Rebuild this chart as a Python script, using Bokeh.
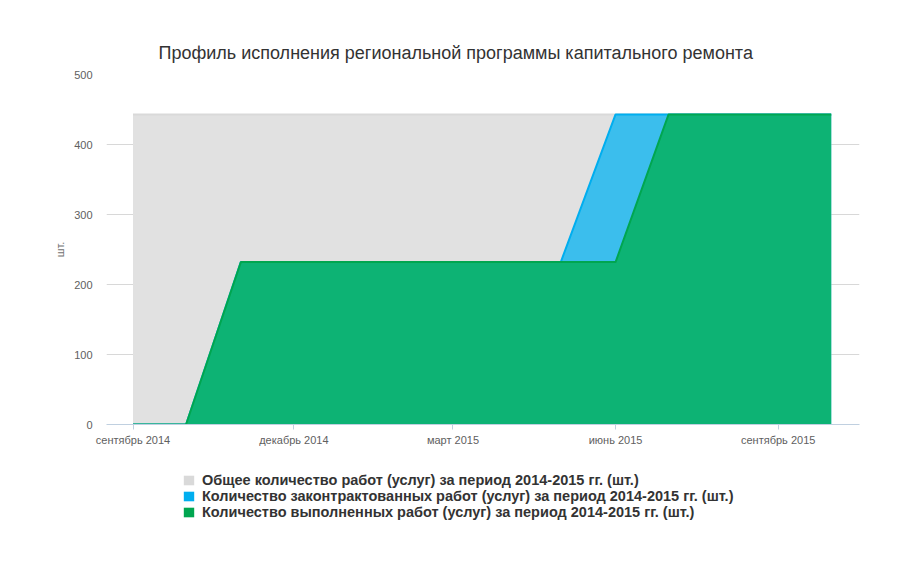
import pandas as pd
from bokeh.plotting import figure
from bokeh.layouts import column
from bokeh.models import Legend, LegendItem, FixedTicker, Range1d
from bokeh.embed import file_html
from bokeh.resources import INLINE

months = ["2014-09-01", "2014-10-01", "2014-11-01", "2014-12-01", "2015-01-01",
          "2015-02-01", "2015-03-01", "2015-04-01", "2015-05-01", "2015-06-01",
          "2015-07-01", "2015-08-01", "2015-09-01", "2015-10-01"]
total = [443, 443, 443, 443, 443, 443, 443, 443, 443, 443, 443, 443, 443, 443]
contracted = [0, 0, 232, 232, 232, 232, 232, 232, 232, 443, 443, 443, 443, 443]
completed = [0, 0, 232, 232, 232, 232, 232, 232, 232, 232, 443, 443, 443, 443]

tick_dates = ["2014-09-01", "2014-12-01", "2015-03-01", "2015-06-01", "2015-09-01"]
tick_labels = ["сентябрь 2014", "декабрь 2014", "март 2015", "июнь 2015", "сентябрь 2015"]
y_ticks = [0, 100, 200, 300, 400, 500]

title_text = "Профиль исполнения региональной программы капитального ремонта"
y_title = "шт."
series_names = ["Общее количество работ (услуг) за период 2014-2015 гг. (шт.)",
                "Количество законтрактованных работ (услуг) за период 2014-2015 гг. (шт.)",
                "Количество выполненных работ (услуг) за период 2014-2015 гг. (шт.)"]


def ms(s):
    return pd.Timestamp(s).value / 1e6


x = [ms(m) for m in months]
ticks = [ms(t) for t in tick_dates]

FONT = "Liberation Sans"

p = figure(width=900, height=470, output_backend="svg", toolbar_location=None,
           min_border_left=106, min_border_right=41, min_border_top=74, min_border_bottom=46,
           background_fill_color="white", border_fill_color="white")
p.outline_line_color = None
p.x_range = Range1d(ms("2014-08-17"), ms("2015-10-17"))
p.y_range = Range1d(0, 500)

fills = ["#e1e1e1", "#3bbeed", "#0db374"]
lines = ["#d9d9d9", "#00aeef", "#00a650"]
swatch = ["#d9d9d9", "#00aeef", "#00a650"]
datas = [total, contracted, completed]
for d, fc, lc in zip(datas, fills, lines):
    p.varea(x=x, y1=[0] * len(x), y2=d, fill_color=fc)
    p.line(x=x, y=d, line_color=lc, line_width=2)

# axes
p.xaxis.ticker = FixedTicker(ticks=ticks)
p.xaxis.major_label_overrides = {t: l for t, l in zip(ticks, tick_labels)}
p.xaxis.axis_line_color = "#c0d0e0"
p.xaxis.major_tick_line_color = "#c0d0e0"
p.xaxis.major_tick_out = 5
p.xaxis.major_tick_in = 0
p.xaxis.minor_tick_line_color = None
p.xaxis.major_label_text_font = FONT
p.xaxis.major_label_text_font_size = "11px"
p.xaxis.major_label_text_color = "#606060"
p.xaxis.major_label_standoff = 4
p.xgrid.grid_line_color = None

p.yaxis.ticker = FixedTicker(ticks=y_ticks)
p.yaxis.axis_line_color = None
p.yaxis.major_tick_line_color = None
p.yaxis.minor_tick_line_color = None
p.yaxis.major_label_text_font = FONT
p.yaxis.major_label_text_font_size = "11px"
p.yaxis.major_label_text_color = "#606060"
p.yaxis.major_label_standoff = 8
p.yaxis.axis_label = y_title
p.yaxis.axis_label_text_font = FONT
p.yaxis.axis_label_text_font_size = "11px"
p.yaxis.axis_label_text_font_style = "normal"
p.yaxis.axis_label_text_color = "#707070"
p.yaxis.axis_label_standoff = 5
p.ygrid.grid_line_color = "#d8d8d8"
p.ygrid.grid_line_width = 1

# title
p.title.text = title_text
p.title.align = "left"
p.title.text_font = FONT
p.title.text_font_size = "18px"
p.title.text_font_style = "normal"
p.title.text_color = "#333333"
p.title.offset = 52
p.title.standoff = 23

# legend figure below the chart (its frame is aligned with the chart's frame by the column)
lg = figure(width=900, height=110, output_backend="svg", toolbar_location=None,
            min_border=0, x_range=Range1d(0, 1), y_range=Range1d(0, 1),
            background_fill_color="white", border_fill_color="white")
lg.outline_line_color = None
lg.axis.visible = False
lg.grid.visible = False
rs = []
for c in swatch:
    rs.append(lg.quad(left=[-5], right=[-4], bottom=[-5], top=[-4], fill_color=c, line_color=None))

legend = Legend(items=[LegendItem(label=n, renderers=[r]) for n, r in zip(series_names, rs)],
                location=(76, 60), orientation="vertical",
                padding=0, spacing=0, margin=0,
                glyph_width=13, glyph_height=12, label_height=16, label_standoff=7,
                label_text_font=FONT, label_text_font_size="14.5px",
                label_text_font_style="bold", label_text_color="#333333",
                background_fill_alpha=0, border_line_color=None)
lg.add_layout(legend, "center")

layout = column(p, lg, spacing=0)
open("out.html", "w").write(file_html(layout, INLINE))
